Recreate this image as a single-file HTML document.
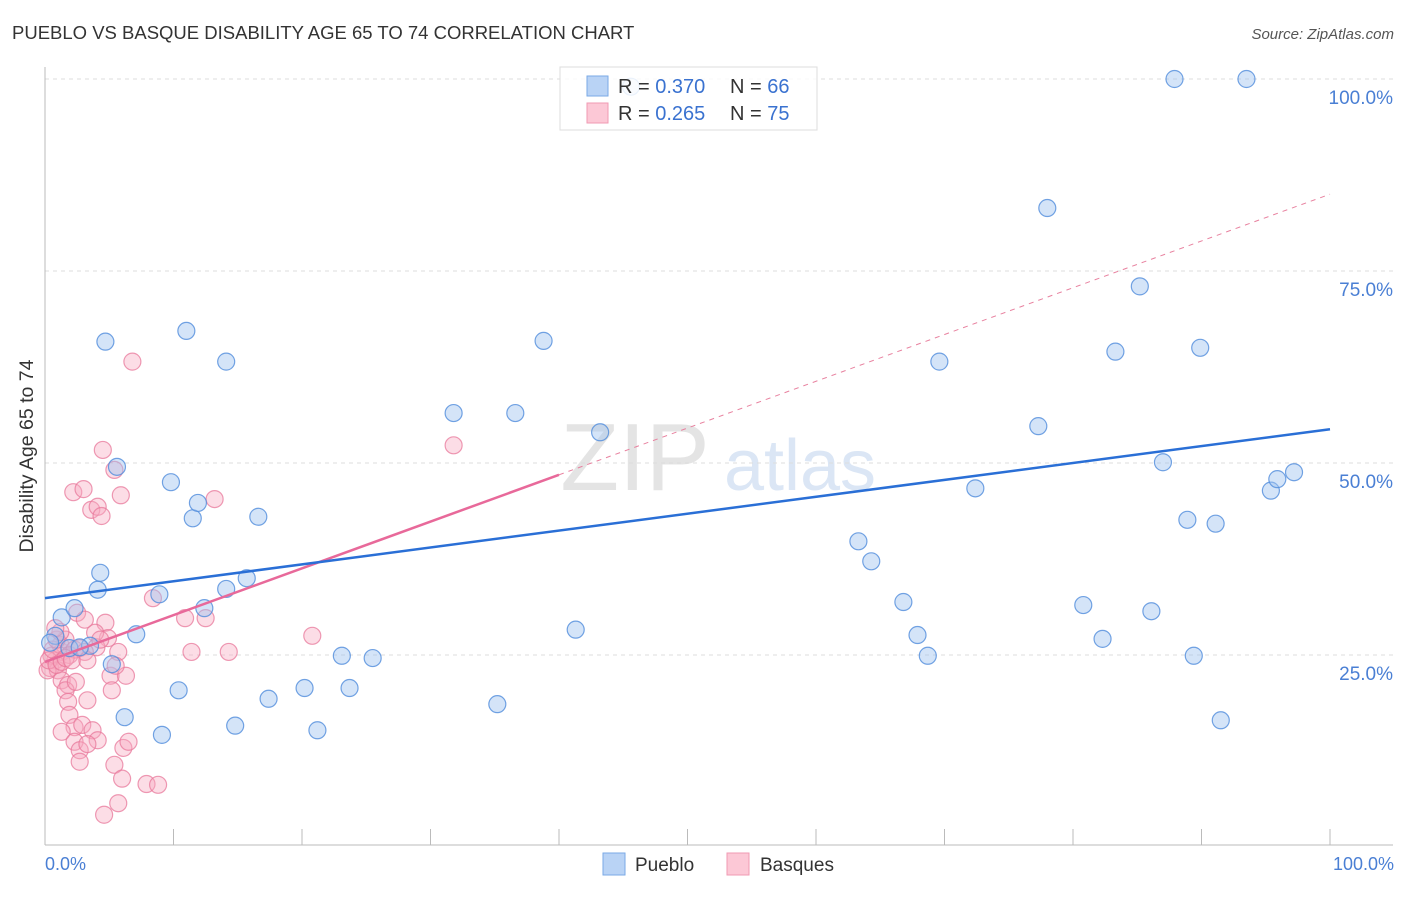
<!DOCTYPE html>
<html><head><meta charset="utf-8"><style>
body{margin:0;background:#fff;font-family:"Liberation Sans",sans-serif;}
svg text{font-family:"Liberation Sans",sans-serif;}
</style></head><body>
<svg id="chart" width="1406" height="892" xmlns="http://www.w3.org/2000/svg">
<text x="12" y="39" font-size="18.5" fill="#333">PUEBLO VS BASQUE DISABILITY AGE 65 TO 74 CORRELATION CHART</text>
<text x="1394" y="39" font-size="15" fill="#555" font-style="italic" text-anchor="end">Source: ZipAtlas.com</text>
<text x="635" y="490" font-size="96" fill="#e4e4e4" font-family="Liberation Serif" text-anchor="middle">ZIP</text>
<text x="800" y="490" font-size="72" fill="#dbe6f5" text-anchor="middle">atlas</text>
<g id="grid"></g>
<g id="axes"></g>
<g id="marks"></g>
<text x="-456" y="33" transform="rotate(-90)" font-size="19.5" fill="#333" text-anchor="middle">Disability Age 65 to 74</text>
<text x="45" y="870" font-size="18" fill="#4a7fd4">0.0%</text>
<text x="1394" y="870" font-size="18" fill="#4a7fd4" text-anchor="end">100.0%</text>
<g>
<rect x="560" y="67" width="257" height="63" fill="rgba(255,255,255,0.85)" stroke="#ddd"/>
<rect x="587" y="76" width="21" height="20" fill="#b9d3f5" stroke="#7aaae6"/>
<rect x="587" y="103" width="21" height="20" fill="#fcc8d6" stroke="#f09ab3"/>
<text x="618" y="93" font-size="20" fill="#333">R = <tspan fill="#3a72d0">0.370</tspan></text>
<text x="730" y="93" font-size="20" fill="#333">N = <tspan fill="#3a72d0">66</tspan></text>
<text x="618" y="120" font-size="20" fill="#333">R = <tspan fill="#3a72d0">0.265</tspan></text>
<text x="730" y="120" font-size="20" fill="#333">N = <tspan fill="#3a72d0">75</tspan></text>
</g>
<g>
<rect x="603" y="853" width="22" height="22" fill="#b9d3f5" stroke="#7aaae6"/>
<text x="635" y="871" font-size="19" fill="#333">Pueblo</text>
<rect x="727" y="853" width="22" height="22" fill="#fcc8d6" stroke="#f09ab3"/>
<text x="760" y="871" font-size="19" fill="#333">Basques</text>
</g>
</svg>
<script>
const yTicks=[25,50,75,100];
const yTickLabels=["25.0%","50.0%","75.0%","100.0%"];
const xTicks=[0,10,20,30,40,50,60,70,80,90,100];
const puebloX=[0.8,1.3,2.3,3.5,4.1,4.3,4.7,5.2,5.6,6.2,7.1,8.9,9.1,9.8,10.4,11.0,11.5,11.9,12.4,14.1,14.1,14.8,15.7,16.6,17.4,20.2,21.2,23.1,23.7,25.5,31.8,35.2,36.6,38.8,41.3,43.2,63.3,64.3,66.8,67.9,68.7,69.6,72.4,77.3,78.0,80.8,82.3,83.3,85.2,86.1,87.0,87.9,88.9,89.4,89.9,91.1,91.5,93.5,95.4,95.9,97.2,0.4,1.9,2.7,45.6];
const puebloY=[27.5,29.9,31.1,26.2,33.5,35.7,65.8,23.8,49.5,16.9,27.7,32.9,14.6,47.5,20.4,67.2,42.8,44.8,31.1,63.2,33.6,15.8,35.0,43.0,19.3,20.7,15.2,24.9,20.7,24.6,56.5,18.6,56.5,65.9,28.3,54.0,39.8,37.2,31.9,27.6,24.9,63.2,46.7,54.8,83.2,31.5,27.1,64.5,73.0,30.7,50.1,100,42.6,24.9,65.0,42.1,16.5,100,46.4,47.9,48.8,26.6,25.9,26.0,99];
const basquesX=[6.8,4.5,2.2,3.0,3.6,4.1,4.4,5.9,5.4,13.2,8.4,2.5,4.7,4.9,3.9,10.9,12.5,11.4,14.3,20.8,31.8,4.0,5.7,1.3,0.8,0.4,0.5,1.2,1.6,1.9,2.3,2.7,3.1,1.0,1.3,1.8,1.6,1.8,1.9,2.3,2.9,3.3,3.7,4.1,1.3,2.3,2.7,3.3,2.7,5.1,5.2,6.3,5.5,6.1,6.5,5.4,6.0,7.9,8.8,5.7,4.6,0.2,0.3,0.6,0.9,1.3,1.6,2.1,0.9,1.2,2.4,3.1,4.3,0.8,3.3];
const basquesY=[63.2,51.7,46.2,46.6,43.9,44.3,43.1,45.8,49.1,45.3,32.4,30.5,29.2,27.2,27.9,29.8,29.8,25.4,25.4,27.5,52.3,26.0,25.4,25.4,24.3,23.3,24.9,26.3,27.0,25.0,25.7,25.9,25.4,23.0,21.7,21.1,20.4,18.9,17.2,15.6,15.9,19.1,15.2,13.9,15.0,13.7,12.6,13.4,11.1,22.3,20.4,22.3,23.6,12.9,13.7,10.7,8.9,8.2,8.1,5.7,4.2,23.0,24.3,25.7,23.7,24.1,24.6,24.3,27.0,28.0,21.5,29.6,27.0,28.5,24.3];
const puebloTrend=[32.4,54.4];
const basquesTrend=[24.1,85.0];
const basquesSolidEnd=40;
const NS="http://www.w3.org/2000/svg";
const X=v=>45+v*12.85, Y=v=>847-v*7.68;
function mk(tag,attrs,parent){const e=document.createElementNS(NS,tag);for(const k in attrs)e.setAttribute(k,attrs[k]);parent.appendChild(e);return e;}
const grid=document.getElementById('grid'),axes=document.getElementById('axes'),marks=document.getElementById('marks');
yTicks.forEach((t,i)=>{
 const l=mk('line',{x1:45,x2:1393,y1:Y(t),y2:Y(t),stroke:'#ddd','stroke-dasharray':'4,4'},grid);
 
 
 const tx=mk('text',{x:1393,y:Y(t)+25,'font-size':19,fill:'#4a7fd4','text-anchor':'end'},grid);
 tx.textContent=yTickLabels[i];
 
 
});
const xa=mk('line',{x1:45,x2:1393,y1:845,y2:845,stroke:'#bbb'},axes);


const ya=mk('line',{x1:45,x2:45,y1:67,y2:845,stroke:'#bbb'},axes);


xTicks.forEach(t=>{
 const l=mk('line',{x1:X(t),x2:X(t),y1:829,y2:845,stroke:'#bbb'},axes);
 
 
});
function dots(xs,ys,fill,stroke,name){xs.forEach((v,i)=>{
 const c=mk('circle',{cx:X(v),cy:Y(ys[i]),r:8.5,fill:fill,stroke:stroke,'stroke-width':1.2},marks);
 
 
});}
dots(basquesX,basquesY,'rgba(247,170,192,0.4)','rgba(232,120,155,0.75)','basques-point');
dots(puebloX,puebloY,'rgba(160,196,240,0.45)','rgba(80,140,220,0.8)','pueblo-point');
const bY=x=>basquesTrend[0]+(basquesTrend[1]-basquesTrend[0])*x/100;
const bd=mk('line',{x1:X(basquesSolidEnd),y1:Y(bY(basquesSolidEnd)),x2:X(100),y2:Y(bY(100)),stroke:'#e8819f','stroke-dasharray':'5,5','stroke-width':1},marks);


const bs=mk('line',{x1:X(0),y1:Y(bY(0)),x2:X(basquesSolidEnd),y2:Y(bY(basquesSolidEnd)),stroke:'#e8699a','stroke-width':2.5},marks);


const pt=mk('line',{x1:X(0),y1:Y(puebloTrend[0]),x2:X(100),y2:Y(puebloTrend[1]),stroke:'#2a6fd6','stroke-width':2.5},marks);


</script>
</body></html>
